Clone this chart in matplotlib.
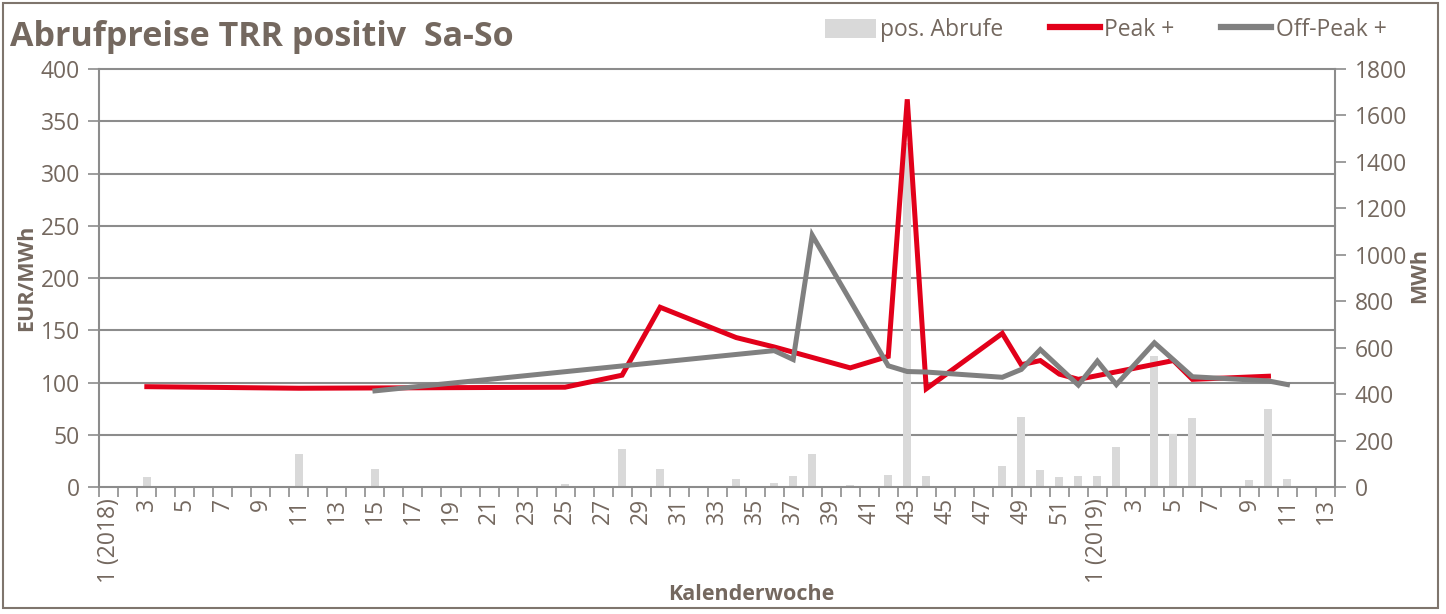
import numpy as np
import matplotlib
matplotlib.use("Agg")
import matplotlib.pyplot as plt
from matplotlib.patches import Patch, Rectangle
from matplotlib.lines import Line2D
from matplotlib.ticker import FixedLocator, MultipleLocator

plt.rcParams['font.family'] = ['Open Sans', 'DejaVu Sans']

# category axis: calendar weeks 2018 + 2019
weeks_2018 = list(range(1, 53))
weeks_2019 = list(range(1, 14))
categories = [f"2018-{w:02d}" for w in weeks_2018] + [f"2019-{w:02d}" for w in weeks_2019]
tick_labels = ["1 (2018)" if w == 1 else str(w) for w in weeks_2018] + \
              ["1 (2019)" if w == 1 else str(w) for w in weeks_2019]

# Peak + (EUR/MWh)
peak_weeks = ["2018-03", "2018-11", "2018-25", "2018-28", "2018-30", "2018-34", "2018-36",
              "2018-40", "2018-42", "2018-43", "2018-44", "2018-48", "2018-49", "2018-50",
              "2018-51", "2018-52", "2019-05", "2019-06", "2019-10"]
peak_vals = [96, 94.5, 95.5, 107, 172, 143, 134, 114, 125, 371, 94, 147, 117, 121,
             108, 103, 121, 103, 106]

# Off-Peak + (EUR/MWh)
offpeak_weeks = ["2018-15", "2018-36", "2018-37", "2018-38", "2018-42", "2018-43", "2018-44",
                 "2018-48", "2018-49", "2018-50", "2018-52", "2019-01", "2019-02", "2019-04",
                 "2019-06", "2019-10", "2019-11"]
offpeak_vals = [92, 130.5, 122, 241, 116, 110.5, 110, 105, 112.5, 131.5, 97.5, 120.5, 98, 138,
                105.5, 101.5, 98]

# pos. Abrufe (MWh)
abruf_weeks = ["2018-03", "2018-11", "2018-15", "2018-25", "2018-28", "2018-30", "2018-34",
               "2018-36", "2018-37", "2018-38", "2018-40", "2018-42", "2018-43", "2018-44",
               "2018-48", "2018-49", "2018-50", "2018-51", "2018-52", "2019-01", "2019-02",
               "2019-04", "2019-05", "2019-06", "2019-09", "2019-10", "2019-11"]
abruf_vals = [44, 142, 76, 12, 162, 79, 34, 16, 47, 142, 10, 52, 1480, 49, 90, 303, 73, 43,
              46, 47, 174, 564, 228, 298, 29, 335, 34]

TEXT = '#74685F'
GRID = '#8C8C8C'
RED = '#E2001A'
GRAY = '#808080'
BAR = '#D9D9D9'
FS = 16.5
LFS = 15.5

pos = {c: i for i, c in enumerate(categories)}
peak_x = [pos[w] for w in peak_weeks]
off_x = [pos[w] for w in offpeak_weeks]
bar_x = [pos[w] for w in abruf_weeks]

fig = plt.figure(figsize=(14.46, 6.14), dpi=100)
ax = fig.add_axes([99.3 / 1446, 1 - 487 / 614, (1335 - 99.3) / 1446, 418 / 614])
ax2 = ax.twinx()
ax.set_zorder(ax2.get_zorder() + 1)
ax.patch.set_visible(False)

n = len(categories)
ax.set_xlim(-0.5, n - 0.5)
ax.set_ylim(0, 400)
ax2.set_ylim(0, 1800)

# gridlines at the primary ticks, drawn behind the bars
for t in np.arange(50, 401, 50):
    ax2.axhline(t * 1800 / 400, color=GRID, lw=1.5, zorder=0, clip_on=False)

ax2.bar(bar_x, abruf_vals, width=0.42, color=BAR, zorder=2)
ax.plot(peak_x, peak_vals, color=RED, lw=3.6, solid_joinstyle='miter', zorder=3)
ax.plot(off_x, offpeak_vals, color=GRAY, lw=3.6, solid_joinstyle='miter', zorder=4)

for a in (ax, ax2):
    for s in a.spines.values():
        s.set_visible(False)
ax.spines['left'].set_visible(True)
ax.spines['bottom'].set_visible(True)
ax2.spines['right'].set_visible(True)
for s in (ax.spines['left'], ax.spines['bottom'], ax2.spines['right']):
    s.set_color(GRID)
    s.set_linewidth(1.5)

ax.yaxis.set_major_locator(MultipleLocator(50))
ax2.yaxis.set_major_locator(MultipleLocator(200))
ax.tick_params(axis='y', colors=GRID, labelcolor=TEXT, labelsize=FS, length=8, width=1.2, pad=6)
ax2.tick_params(axis='y', colors=GRID, labelcolor=TEXT, labelsize=FS, length=8, width=1.2, pad=6)

ax.xaxis.set_major_locator(FixedLocator(range(0, n, 2)))
ax.set_xticklabels(tick_labels[0::2], rotation=90, va='top', ha='center')
ax.xaxis.set_minor_locator(FixedLocator(np.arange(-0.5, n, 1)))
ax.tick_params(axis='x', which='major', length=0, labelsize=FS, labelcolor=TEXT, pad=8)
ax.tick_params(axis='x', which='minor', length=7, width=1.2, color=GRID)

ax.set_ylabel("EUR/MWh", fontsize=LFS, fontweight='bold', color=TEXT, va='center')
ax.yaxis.set_label_coords(-0.0585, 0.5)
ax2.set_ylabel("MWh", fontsize=LFS, fontweight='bold', color=TEXT, rotation=90, va='center')
ax2.yaxis.set_label_coords(1.0688, 0.507)
ax.set_xlabel("Kalenderwoche", fontsize=LFS, fontweight='bold', color=TEXT, va='center')
ax.xaxis.set_label_coords(0.528, -0.258)

fig.text(10 / 1446, 1 - 37 / 614, "Abrufpreise TRR positiv  Sa-So", fontsize=24.5,
         fontweight='bold', color=TEXT, va='center', ha='left')

handles = [Patch(facecolor=BAR, edgecolor='none'),
           Line2D([], [], color=RED, lw=4.5),
           Line2D([], [], color=GRAY, lw=4.5)]
fig.legend(handles, ["pos. Abrufe", "Peak +", "Off-Peak +"], loc='center',
           bbox_to_anchor=(1106 / 1446, 1 - 30 / 614), ncol=3, frameon=False,
           fontsize=FS, labelcolor=TEXT, handlelength=2.2, handleheight=0.9,
           handletextpad=0.2, columnspacing=2.0)

fig.patches.append(Rectangle((3 / 1446, 1 - 608 / 614), 1435 / 1446, 605 / 614,
                             transform=fig.transFigure, fill=False,
                             edgecolor='#7F756D', lw=1.5))

fig.savefig("out.png", dpi=100)
